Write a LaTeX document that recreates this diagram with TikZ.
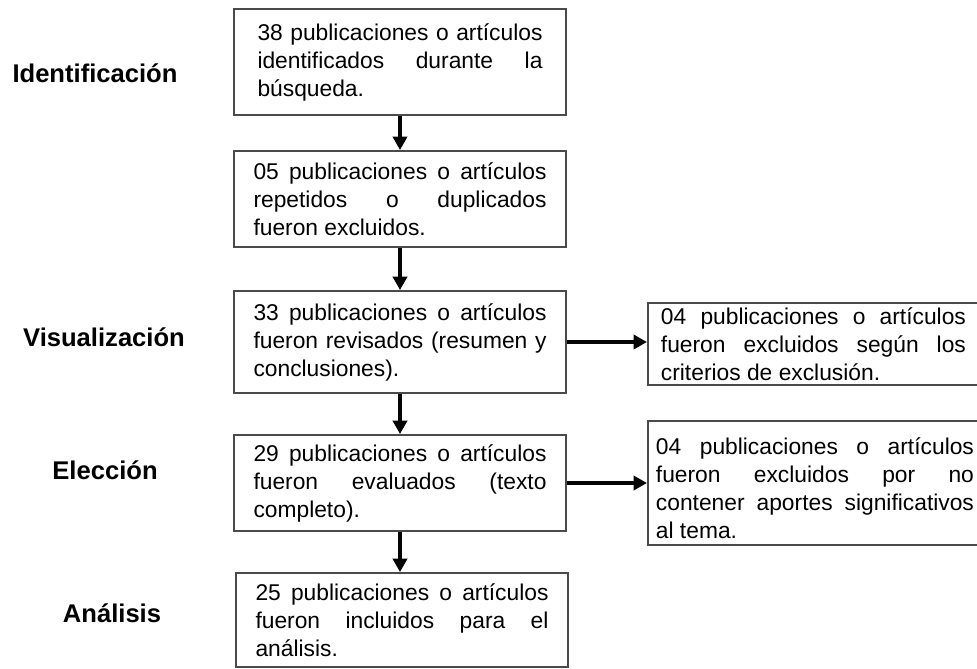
\documentclass[tikz,border=0pt]{standalone}
\usepackage{fontspec}
\setmainfont{Liberation Sans}[WordSpace={1,3,0}]
\usepackage{tikz}
\usetikzlibrary{arrows.meta, positioning, calc}
\definecolor{boxline}{HTML}{4A4A4A}
\definecolor{arrowdark}{HTML}{050505}
\setlength{\parindent}{0pt}
\tolerance=10000
\hbadness=10000
\hyphenpenalty=10000
\exhyphenpenalty=10000

\begin{document}
\begin{tikzpicture}[x=0.75pt, y=-0.75pt,
  stagebox/.style={draw=boxline, line width=1.4pt, fill=white, align=justify,
    text width=219.75pt, minimum width=249pt, inner xsep=0pt, inner ysep=0pt,
    font=\fontsize{17.1}{21}\selectfont},
  sidebox/.style={draw=boxline, line width=1.4pt, fill=white, align=justify,
    anchor=north west, inner ysep=0pt, font=\fontsize{17.1}{21}\selectfont},
  phase/.style={font=\fontsize{19.2}{19.2}\selectfont\bfseries},
  flow/.style={arrowdark, line width=3.3pt, -{Triangle[length=10pt, width=10.5pt]}}]

  % Page frame
  \useasboundingbox (0,0) rectangle (977,668);

  % Phase labels
  \node[phase] (ident) at (95,73) {Identificación};
  \node[phase] (visual) at (104,337) {Visualización};
  \node[phase] (elec) at (105,470) {Elección};
  \node[phase] (anal) at (112,613) {Análisis};

  % Main column
  \node[stagebox, text width=213.75pt, minimum height=79.5pt] (b1) at (400,62)
    {38 publicaciones o artículos identificados durante la búsqueda.};
  \node[stagebox, minimum height=72pt] (b2) at (400,199)
    {05 publicaciones o artículos repetidos o duplicados fueron excluidos.};
  \node[stagebox, minimum height=76.5pt] (b3) at (400,342)
    {33 publicaciones o artículos fueron revisados (resumen y conclusiones).};
  \node[stagebox, minimum height=72pt] (b4) at (400,483)
    {29 publicaciones o artículos fueron evaluados (texto completo).};
  \node[stagebox, minimum height=70.5pt] (b5) at (402,620)
    {25 publicaciones o artículos fueron incluidos para el análisis.};

  % Exclusion boxes
  \node[sidebox, text width=228.75pt, inner xsep=9.75pt, minimum height=61.5pt] (r1) at (647,302)
    {04 publicaciones o artículos fueron excluidos según los criterios de exclusión.};
  \node[sidebox, text width=238.5pt, inner xsep=6pt, minimum height=93pt] (r2) at (647,420)
    {\rule{0pt}{20pt}04 publicaciones o artículos fueron excluidos por no contener aportes significativos al tema.};

  % Connectors
  \draw[flow] (b1.south) -- (b2.north);
  \draw[flow] (b2.south) -- (b3.north);
  \draw[flow] (b3.south) -- (b4.north);
  \draw[flow] (b4.south) -- (b4.south |- b5.north);
  \draw[flow] (b3.east) -- (b3.east -| r1.west);
  \draw[flow] (b4.east) -- (b4.east -| r2.west);
\end{tikzpicture}
\end{document}
